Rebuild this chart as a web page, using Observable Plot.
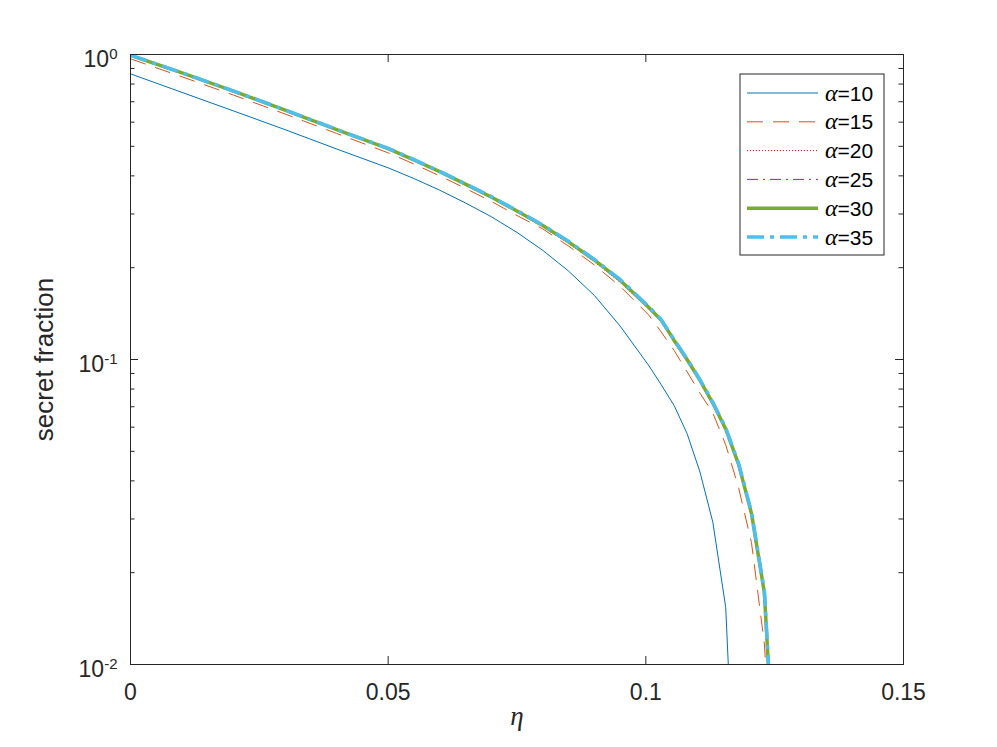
<!DOCTYPE html>
<html>
<head>
<meta charset="utf-8">
<script src="https://cdn.jsdelivr.net/npm/d3@7"></script>
<script src="https://cdn.jsdelivr.net/npm/@observablehq/plot@0.6"></script>
<style>
  html, body { margin: 0; padding: 0; background: #fff; }
  #chart { width: 997px; height: 747px; }
</style>
</head>
<body>
<div id="chart"></div>
<script>
// ---------------- data ----------------
const eta = [0, 0.01, 0.02, 0.03, 0.04, 0.05, 0.055, 0.06, 0.065, 0.07, 0.075, 0.08, 0.085, 0.09, 0.095,
             0.1005, 0.103, 0.1055, 0.108, 0.1105, 0.113, 0.1155, 0.118, 0.1205, 0.123, 0.1255];

const alpha10 = [0.864, 0.751, 0.653, 0.567, 0.490, 0.425, 0.392, 0.359, 0.326, 0.294, 0.261, 0.228, 0.195, 0.1623, 0.1288,
                 0.0959, 0.0826, 0.0706, 0.0572, 0.0428, 0.0293, 0.0154, 0.0018, null, null, null];
const alpha15 = [0.968, 0.845, 0.736, 0.638, 0.551, 0.476, 0.4375, 0.400, 0.364, 0.330, 0.2965, 0.268, 0.2355, 0.2042, 0.1738,
                 0.1403, 0.123, 0.107, 0.0912, 0.0776, 0.0668, 0.0525, 0.038, 0.0251, 0.0117, 0.0025];
const alpha20 = [0.991, 0.867, 0.755, 0.654, 0.564, 0.488, 0.448, 0.410, 0.373, 0.338, 0.304, 0.272, 0.240, 0.209, 0.179,
                 0.1465, 0.1326, 0.1138, 0.0984, 0.0841, 0.0707, 0.0581, 0.0443, 0.0305, 0.0167, 0.0029];
const alpha25 = [0.993, 0.869, 0.757, 0.656, 0.566, 0.490, 0.450, 0.412, 0.375, 0.340, 0.306, 0.274, 0.242, 0.211, 0.181,
                 0.1478, 0.1338, 0.1149, 0.0994, 0.085, 0.0715, 0.0588, 0.0449, 0.031, 0.017, 0.003];
const alpha30 = [0.994, 0.870, 0.758, 0.657, 0.567, 0.491, 0.451, 0.413, 0.376, 0.341, 0.307, 0.275, 0.243, 0.212, 0.182,
                 0.1486, 0.1345, 0.1155, 0.1, 0.0855, 0.072, 0.0592, 0.0453, 0.0313, 0.0172, 0.003];
const alpha35 = [0.995, 0.871, 0.759, 0.658, 0.568, 0.492, 0.452, 0.414, 0.377, 0.342, 0.308, 0.276, 0.244, 0.213, 0.183,
                 0.1493, 0.135, 0.1161, 0.1005, 0.0859, 0.0724, 0.0596, 0.0456, 0.0316, 0.0174, 0.0031];

const alphas = [10, 15, 20, 25, 30, 35];
const seriesValues = [alpha10, alpha15, alpha20, alpha25, alpha30, alpha35];

const xTicks = [0, 0.05, 0.1, 0.15];
const xTickLabels = ["0", "0.05", "0.1", "0.15"];
const yTicks = [0.01, 0.1, 1];
const yTickExponents = ["-2", "-1", "0"];
const yMinorTicks = [0.02, 0.03, 0.04, 0.05, 0.06, 0.07, 0.08, 0.09, 0.2, 0.3, 0.4, 0.5, 0.6, 0.7, 0.8, 0.9];

const xLabel = "η";
const yLabel = "secret fraction";

// ---------------- styles ----------------
const styles = [
  { stroke: "#0072BD", width: 1,   dash: undefined },
  { stroke: "#D95319", width: 1,   dash: "16,10" },
  { stroke: "#FF0000", width: 1,   dash: "1,2" },
  { stroke: "#7E2F8E", width: 1,   dash: "11,5,2,5" },
  { stroke: "#77AC30", width: 3.5, dash: undefined },
  { stroke: "#4DBEEE", width: 3.5, dash: "17,6,4,6" }
];

const W = 997, H = 747;
const mL = 130, mR = 94, mT = 54, mB = 83;
const frameW = W - mL - mR;
const frameH = H - mT - mB;
const axisColor = "#262626";
const sansFont = "'Liberation Sans', Arial, Helvetica, sans-serif";
const serifFont = "'Liberation Serif', 'DejaVu Serif', serif";

// ---------------- table ----------------
const rows = [];
alphas.forEach((a, i) => {
  seriesValues[i].forEach((v, j) => {
    if (v != null) rows.push({ eta: eta[j], value: v, alpha: a });
  });
});

const lineMarks = alphas.map((a, i) =>
  Plot.line(rows.filter(r => r.alpha === a), {
    x: "eta", y: "value",
    stroke: styles[i].stroke,
    strokeWidth: styles[i].width,
    strokeDasharray: styles[i].dash,
    strokeLinecap: "butt",
    strokeLinejoin: "round",
    clip: true
  })
);

const majorLen = 8, minorLen = 4.5;

const svg = Plot.plot({
  width: W, height: H,
  marginLeft: mL, marginRight: mR, marginTop: mT, marginBottom: mB,
  x: { domain: [0, 0.15] },
  y: { type: "log", domain: [0.01, 1] },
  style: { fontFamily: sansFont, color: axisColor, background: "#fff" },
  marks: [
    ...lineMarks,
    Plot.frame({ stroke: axisColor, strokeWidth: 1 }),
    // inward ticks (box on)
    Plot.tickX(xTicks, { x: d => d, stroke: axisColor, insetTop: frameH - majorLen }),
    Plot.tickX(xTicks, { x: d => d, stroke: axisColor, insetBottom: frameH - majorLen }),
    Plot.tickY(yTicks, { y: d => d, stroke: axisColor, insetRight: frameW - majorLen }),
    Plot.tickY(yTicks, { y: d => d, stroke: axisColor, insetLeft: frameW - majorLen }),
    Plot.tickY(yMinorTicks, { y: d => d, stroke: axisColor, insetRight: frameW - minorLen }),
    Plot.tickY(yMinorTicks, { y: d => d, stroke: axisColor, insetLeft: frameW - minorLen }),
    Plot.axisX({ ticks: xTicks, tickSize: 0, tickPadding: 19, fontSize: 23, label: null,
      tickFormat: d => xTickLabels[xTicks.indexOf(d)] }),
    Plot.axisY({ ticks: yTicks, tickSize: 0, tickPadding: 13, fontSize: 23, label: null, dy: 5,
      tickFormat: d => yTickExponents[yTicks.indexOf(d)] }),
    Plot.text([xLabel], { frameAnchor: "bottom", dy: 60, text: d => d, fontSize: 27,
      fontFamily: serifFont, fontStyle: "italic", fill: axisColor, textAnchor: "middle" }),
    Plot.text([yLabel], { frameAnchor: "left", dx: -86, rotate: -90, text: d => d, fontSize: 26,
      fill: axisColor, textAnchor: "middle", lineAnchor: "middle" })
  ]
});

// superscript y tick labels: 10^k
d3.select(svg).selectAll('g[aria-label="y-axis tick label"] text').each(function () {
  const exp = this.textContent;
  const t = d3.select(this);
  t.text("10");
  t.append("tspan").attr("dy", "-0.55em").attr("font-size", "15px").text(exp);
});

// legend inside axes (top-right)
const boxW = 144, boxH = 181;
const boxX = mL + frameW - 19 - boxW;
const boxY = mT + 20;
const lg = d3.select(svg).append("g").attr("class", "legend").attr("text-anchor", "start");
lg.append("rect").attr("x", boxX).attr("y", boxY).attr("width", boxW).attr("height", boxH)
  .attr("fill", "#fff").attr("stroke", axisColor).attr("stroke-width", 1);
alphas.forEach((a, i) => {
  const cy = boxY + 19 + i * 28.8;
  lg.append("line")
    .attr("x1", boxX + 7).attr("x2", boxX + 78).attr("y1", cy).attr("y2", cy)
    .attr("stroke", styles[i].stroke).attr("stroke-width", styles[i].width)
    .attr("stroke-dasharray", styles[i].dash || null);
  const tx = lg.append("text").attr("x", boxX + 85).attr("y", cy).attr("dy", "0.36em")
    .attr("fill", "#000").attr("font-size", 21).attr("text-anchor", "start")
    .attr("font-family", sansFont);
  tx.append("tspan").attr("font-family", serifFont)
    .attr("font-style", "italic").attr("font-size", 24).text("α");
  tx.append("tspan").text("=" + a);
});

document.getElementById("chart").appendChild(svg);
</script>
</body>
</html>
